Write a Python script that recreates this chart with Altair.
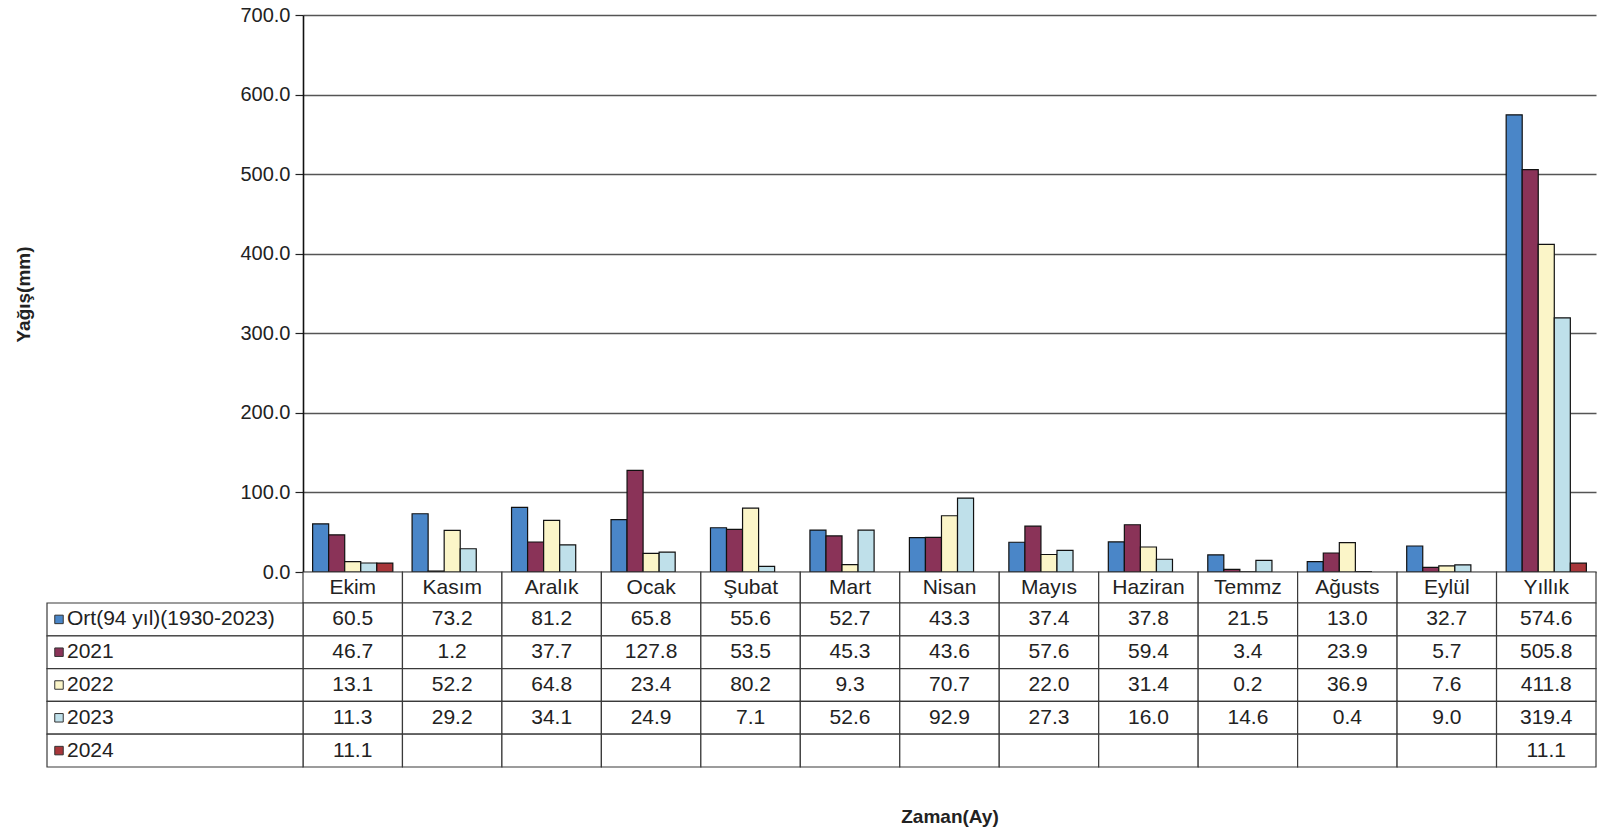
import altair as alt
import pandas as pd

months = ["Ekim", "Kasım", "Aralık", "Ocak", "Şubat", "Mart", "Nisan",
          "Mayıs", "Haziran", "Temmz", "Ağusts", "Eylül", "Yıllık"]
series = ["Ort(94 yıl)(1930-2023)", "2021", "2022", "2023", "2024"]
colors = ["#4a86c8", "#8a3358", "#fbf5c8", "#bfe0ea", "#a8363a"]

ort = [60.5, 73.2, 81.2, 65.8, 55.6, 52.7, 43.3, 37.4, 37.8, 21.5, 13.0, 32.7, 574.6]
y2021 = [46.7, 1.2, 37.7, 127.8, 53.5, 45.3, 43.6, 57.6, 59.4, 3.4, 23.9, 5.7, 505.8]
y2022 = [13.1, 52.2, 64.8, 23.4, 80.2, 9.3, 70.7, 22.0, 31.4, 0.2, 36.9, 7.6, 411.8]
y2023 = [11.3, 29.2, 34.1, 24.9, 7.1, 52.6, 92.9, 27.3, 16.0, 14.6, 0.4, 9.0, 319.4]
y2024 = [11.1, None, None, None, None, None, None, None, None, None, None, None, 11.1]

y_ticks = [0, 100, 200, 300, 400, 500, 600, 700]

rows = []
for s, vals in zip(series, [ort, y2021, y2022, y2023, y2024]):
    for m, v in zip(months, vals):
        rows.append({"month": m, "series": s, "value": v,
                     "label": "" if v is None else f"{v:.1f}"})
df = pd.DataFrame(rows)
df_bars = df[df["value"].notna()]
df_head = pd.DataFrame({"month": months})
df_leg = pd.DataFrame({"series": series})

W = 1293
FONT = "Liberation Sans"
TXT = "#222222"
LINE = "#3a3a3a"
FS = 21

xscale = alt.Scale(domain=months, paddingInner=0, paddingOuter=0)
sscale = alt.Scale(domain=series, paddingInner=0, paddingOuter=0)
cscale = alt.Scale(domain=series, range=colors)

bars = alt.Chart(df_bars).mark_bar(stroke="#111111", strokeWidth=1.2).encode(
    x=alt.X("month:N", sort=months, scale=xscale, axis=None),
    xOffset=alt.XOffset("series:N", sort=series,
                        scale=alt.Scale(domain=series, paddingInner=0, paddingOuter=0.6)),
    y=alt.Y("value:Q", scale=alt.Scale(domain=[0, 700], nice=False),
            axis=alt.Axis(values=y_ticks, format=".1f", grid=True, gridColor="#555555",
                          gridWidth=1.3, domainColor="#111111", domainWidth=1.6,
                          tickColor="#222222", tickSize=8, tickWidth=1.2, labelPadding=5,
                          labelFontSize=20, labelColor=TXT, labelFont=FONT,
                          title="Yağış(mm)", titleFontSize=19, titleFont=FONT,
                          titleFontWeight="bold", titleColor=TXT,
                          titleX=-280, titleY=279, titleAngle=-90,
                          titleAlign="center", titleBaseline="middle")),
    color=alt.Color("series:N", scale=cscale, legend=None),
).properties(width=W, height=557)

head_rect = alt.Chart(df_head).mark_rect(fill="white", stroke=LINE, strokeWidth=1.2).encode(
    x=alt.X("month:N", sort=months, scale=xscale, axis=None))
head_text = alt.Chart(df_head).mark_text(fontSize=FS, font=FONT, color=TXT).encode(
    x=alt.X("month:N", sort=months, scale=xscale, axis=None),
    text="month:N")
header = alt.layer(head_rect, head_text).properties(width=W, height=31)

cell_rect = alt.Chart(df).mark_rect(fill="white", stroke=LINE, strokeWidth=1.2).encode(
    x=alt.X("month:N", sort=months, scale=xscale,
            axis=alt.Axis(labels=False, ticks=False, domain=False, title="Zaman(Ay)",
                          titleFontSize=19, titleFont=FONT, titleFontWeight="bold",
                          titleColor=TXT, titlePadding=40)),
    y=alt.Y("series:N", sort=series, scale=sscale, axis=None))
cell_text = alt.Chart(df).mark_text(fontSize=FS, font=FONT, color=TXT).encode(
    x=alt.X("month:N", sort=months, scale=xscale),
    y=alt.Y("series:N", sort=series, scale=sscale),
    text="label:N")
leg_rect = alt.Chart(df_leg).mark_rect(fill="white", stroke=LINE, strokeWidth=1.2).encode(
    x=alt.value(-256), x2=alt.value(0),
    y=alt.Y("series:N", sort=series, scale=sscale))
leg_sq = alt.Chart(df_leg).mark_square(size=72, opacity=1, filled=True,
                                       stroke="#333333", strokeWidth=1).encode(
    x=alt.value(-244),
    y=alt.Y("series:N", sort=series, scale=sscale),
    color=alt.Color("series:N", scale=cscale, legend=None))
leg_text = alt.Chart(df_leg).mark_text(fontSize=FS, font=FONT, color=TXT, align="left").encode(
    x=alt.value(-236),
    y=alt.Y("series:N", sort=series, scale=sscale),
    text="series:N")
table = alt.layer(cell_rect, cell_text, leg_rect, leg_sq, leg_text).properties(
    width=W, height=164)

chart = alt.vconcat(bars, header, table, spacing=0, bounds="flush").properties(
    padding={"left": 14, "top": 5, "right": 5, "bottom": 3},
    background="white",
).configure_view(stroke=None)

chart.save("out.html", embed_options={"renderer": "svg", "actions": False})
